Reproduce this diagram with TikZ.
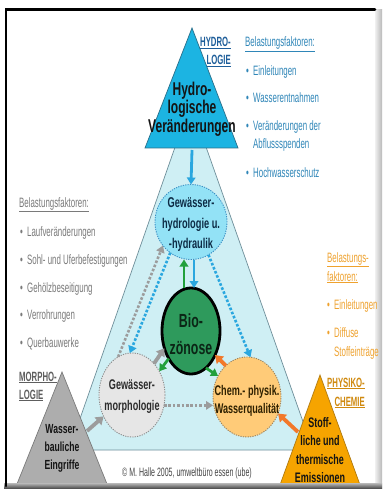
\documentclass[tikz,border=0pt]{standalone}
\usepackage{fontspec}
\setmainfont[FakeStretch=0.65]{Liberation Sans}
\newfontfamily\condf[FakeStretch=0.58]{Liberation Sans}
\usetikzlibrary{arrows.meta,shapes.geometric}
\definecolor{hydroC}{HTML}{1CB4E2}
\definecolor{hydroLine}{HTML}{2A6F8A}
\definecolor{bigC}{HTML}{CFEFF4}
\definecolor{bigLine}{HTML}{6F8F9A}
\definecolor{ellC}{HTML}{93E2F6}
\definecolor{ellLine}{HTML}{3B8FC4}
\definecolor{bioC}{HTML}{2E9A5C}
\definecolor{morC}{HTML}{E6E6E6}
\definecolor{morLine}{HTML}{8C8C8C}
\definecolor{cheC}{HTML}{FFCB78}
\definecolor{cheLine}{HTML}{9C8460}
\definecolor{grayT}{HTML}{ADADAD}
\definecolor{grayLine}{HTML}{7A7A7A}
\definecolor{oraT}{HTML}{F6A400}
\definecolor{oraLine}{HTML}{B07A10}
\definecolor{blueTxt}{HTML}{2F86B8}
\definecolor{blueLab}{HTML}{1E5E9A}
\definecolor{grayTxt}{HTML}{7A7A7A}
\definecolor{grayLab}{HTML}{5E5E5E}
\definecolor{oraTxt}{HTML}{EFA22E}
\definecolor{oraLab}{HTML}{D08A10}
\definecolor{arBlue}{HTML}{2AA7DF}
\definecolor{arGreen}{HTML}{22A03C}
\definecolor{arOra}{HTML}{F2782A}
\definecolor{arGray}{HTML}{9C9C9C}
\definecolor{darkT}{HTML}{141414}
\definecolor{ellTxt}{HTML}{0D2B45}
\definecolor{bioTxt}{HTML}{0B2616}
\definecolor{morTxt}{HTML}{2B2B2B}
\definecolor{cheTxt}{HTML}{2E2000}
\definecolor{copyTxt}{HTML}{444444}
\newcommand{\mybullet}{\makebox[7pt][l]{•}}
\begin{document}
\begin{tikzpicture}[x=1pt,y=-1pt,
  shp/.style={ellipse, inner sep=0pt, outer sep=0pt},
  dotb/.style={dash pattern=on 1.2pt off 1.2pt, line width=0.9pt},
  stxt/.style={align=center, inner sep=0pt},
  ltxt/.style={anchor=base west, inner sep=0pt, font=\condf\fontsize{13.6}{16}\selectfont},
  labW/.style={anchor=base west, inner sep=0pt, font=\condf\bfseries\fontsize{13.4}{16}\selectfont},
  labE/.style={anchor=base east, inner sep=0pt, font=\condf\bfseries\fontsize{13.4}{16}\selectfont},
  bluear/.style={arBlue, line width=2.8pt, -{Triangle[width=8.5pt,length=7pt]}},
  solidar/.style={line width=3.8pt, -{Triangle[width=10pt,length=7.5pt]}},
  thinar/.style={line width=2.8pt, -{Triangle[width=8.5pt,length=7pt]}},
  dotar/.style={line width=2.6pt, dash pattern=on 2.6pt off 1.8pt, -{Triangle[width=8.5pt,length=7pt]}}
]
\useasboundingbox (0,0) rectangle (383,489);
\fill[white] (0,0) rectangle (383,489);

% large pale triangle
\filldraw[fill=bigC, draw=bigLine, line width=0.7pt] (190.5,103) -- (313,450) -- (69,450) -- cycle;
% corner triangles
\filldraw[fill=hydroC, draw=hydroLine, line width=0.7pt] (192,28) -- (238,148) -- (145,148) -- cycle;
\filldraw[fill=grayT, draw=grayLine, line width=0.7pt] (62,372) -- (109,489) -- (15,489) -- cycle;
\filldraw[fill=oraT, draw=oraLine, line width=0.7pt] (320,375) -- (361.5,489) -- (278.5,489) -- cycle;

% frame
\shade[left color=gray!12, right color=gray!55] (375,10) rectangle (382,489);
\shade[top color=gray!55, bottom color=black!75] (4,483) rectangle (382,489);
\draw[line width=2.5pt, line cap=round] (6,486) -- (6,9.5) -- (375,9.5);

% circles
\node[shp, minimum width=72pt, minimum height=75pt, fill=ellC, draw=ellLine, dotb] (hydroE) at (191,222) {};
\node[shp, minimum width=58pt, minimum height=86pt, fill=bioC, draw=black, line width=2.8pt] (bio) at (191,331) {};
\node[shp, minimum width=66pt, minimum height=84pt, fill=morC, draw=morLine, dotb] (morph) at (132,395) {};
\node[shp, minimum width=68pt, minimum height=80pt, fill=cheC, draw=cheLine, dotb] (chem) at (247,397) {};

% named points on the corner triangles
\coordinate (hB) at (192,150);
\coordinate (gtE) at (87,431);
\coordinate (otE) at (298,432);

% arrows
\draw[bluear] (hB) -- (hydroE.north);
\draw[thinar, arGreen] ([xshift=-7pt]bio.north) -- ([xshift=-7pt]hydroE.south);
\draw[bluear] ([xshift=3pt]hydroE.south) -- ([xshift=3pt]bio.north);
\draw[dotar, arGray] (morph.110) -- (hydroE.220);
\draw[dotar, arBlue] (hydroE.236) -- (morph.93);
\draw[dotar, arBlue] (hydroE.298) -- (chem.85);
\draw[dotar, arGray] (morph.-18) -- (chem.west |- morph.-18);
\draw[solidar, arGray] (morph.55) -- (bio.213);
\draw[thinar, arGreen] (bio.231) -- (morph.41);
\draw[solidar, arOra] (chem.124) -- (bio.315);
\draw[thinar, arGreen] (bio.292) -- (chem.144);
\draw[solidar, arGray] (gtE) -- (morph.217);
\draw[solidar, arOra] (otE) -- (chem.332);

% texts in shapes
\node[stxt, text=darkT, font=\bfseries\fontsize{18.5}{18.5}\selectfont] (hydroT) at (192,109) {Hydro-\\logische\\Veränderungen};
\node[stxt, text=darkT, font=\bfseries\fontsize{13.2}{18}\selectfont] (grayTt) at (62,448) {Wasser-\\bauliche\\Eingriffe};
\node[stxt, text=darkT, font=\bfseries\fontsize{13.8}{18.3}\selectfont] (oraTt) at (320,450) {Stoff-\\liche und\\thermische\\Emissionen};
\node[stxt, text=ellTxt, font=\bfseries\fontsize{14.2}{20.5}\selectfont] (hydroEt) at (191,225) {Gewässer-\\hydrologie u.\\-hydraulik};
\node[stxt, text=bioTxt, font=\bfseries\fontsize{19}{27}\selectfont] (biot) at (191,334) {Bio-\\zönose};
\node[stxt, text=morTxt, font=\bfseries\fontsize{14}{21}\selectfont] (morpht) at (132,397) {Gewässer-\\morphologie};
\node[stxt, text=cheTxt, font=\bfseries\fontsize{14}{17.5}\selectfont] (chemt) at (247,401) {Chem.- physik.\\Wasserqualität};

% right blue list
\node[labE, text=blueLab] (hyd1) at (231,47) {\underline{HYDRO-}};
\node[labE, text=blueLab] (hyd2) at (231,65) {\underline{LOGIE}};
\node[ltxt, text=blueTxt] (rh) at (245,47) {\underline{Belastungsfaktoren:}};
\node[ltxt, text=blueTxt] (r1) at (246,76) {\mybullet Einleitungen};
\node[ltxt, text=blueTxt] (r2) at (246,103) {\mybullet Wasserentnahmen};
\node[ltxt, text=blueTxt] (r3) at (246,131) {\mybullet Veränderungen der};
\node[ltxt, text=blueTxt] (r3b) at (253,149) {Abflussspenden};
\node[ltxt, text=blueTxt] (r4) at (246,177) {\mybullet Hochwasserschutz};

% left gray list
\node[ltxt, text=grayTxt] (lh) at (19,207) {\underline{Belastungsfaktoren:}};
\node[ltxt, text=grayTxt] (l1) at (20,236) {\mybullet Laufveränderungen};
\node[ltxt, text=grayTxt] (l2) at (20,264) {\mybullet Sohl- und Uferbefestigungen};
\node[ltxt, text=grayTxt] (l3) at (20,292) {\mybullet Gehölzbeseitigung};
\node[ltxt, text=grayTxt] (l4) at (20,319) {\mybullet Verrohrungen};
\node[ltxt, text=grayTxt] (l5) at (20,347) {\mybullet Querbauwerke};
\node[labW, text=grayLab] (mor1) at (19,381) {\underline{MORPHO-}};
\node[labW, text=grayLab] (mor2) at (19,399) {\underline{LOGIE}};

% right orange list
\node[ltxt, text=oraTxt] (oh1) at (327,262) {\underline{Belastungs-}};
\node[ltxt, text=oraTxt] (oh2) at (327,281) {\underline{faktoren:}};
\node[ltxt, text=oraTxt] (o1) at (327,309) {\mybullet Einleitungen};
\node[ltxt, text=oraTxt] (o2) at (327,337) {\mybullet Diffuse};
\node[ltxt, text=oraTxt] (o2b) at (334,356) {Stoffeinträge};
\node[labE, text=oraLab] (phy1) at (365,387) {\underline{PHYSIKO-}};
\node[labE, text=oraLab] (phy2) at (365,406) {\underline{CHEMIE}};

% copyright
\node[anchor=base, inner sep=0pt, text=copyTxt, font=\condf\fontsize{12.1}{14}\selectfont] (copy) at (187,476) {© M. Halle 2005, umweltbüro essen (ube)};
\end{tikzpicture}
\end{document}
